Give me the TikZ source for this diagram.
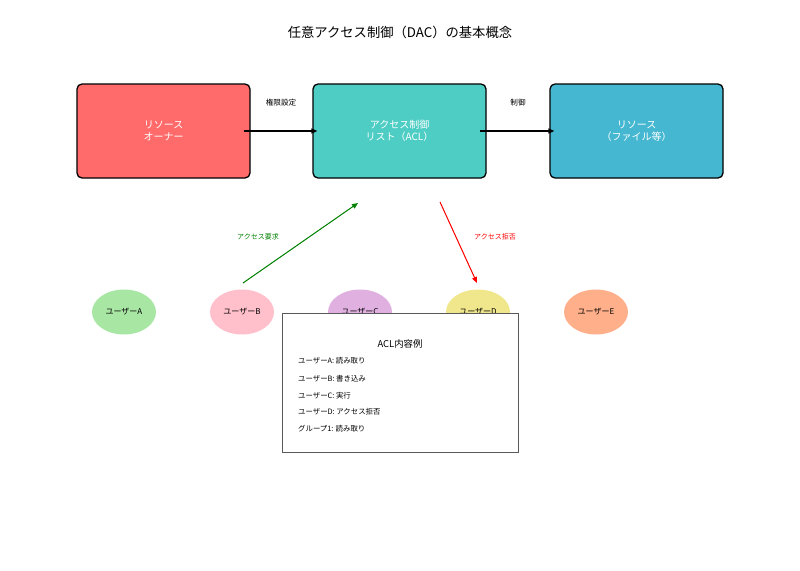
\documentclass[tikz,border=0pt]{standalone}
\usepackage{fontspec}
\setmainfont{Noto Sans CJK JP}
\usetikzlibrary{arrows.meta,shapes.geometric}

\definecolor{ownerred}{HTML}{FF6B6B}
\definecolor{aclteal}{HTML}{4ECDC4}
\definecolor{resblue}{HTML}{45B7D1}
\definecolor{usera}{HTML}{A8E6A3}
\definecolor{userb}{HTML}{FFC0CB}
\definecolor{userc}{HTML}{E0B0E0}
\definecolor{userd}{HTML}{F0E68C}
\definecolor{usere}{HTML}{FFAF8A}
\definecolor{okgreen}{HTML}{008000}
\definecolor{ngred}{HTML}{FF0000}

\begin{document}
\begin{tikzpicture}
  [x=1pt,y=-1pt,
   box/.style={draw=black,line width=1.3pt,rounded corners=5pt,minimum width=173pt,
     minimum height=94pt,inner sep=0pt,text=white,align=center,
     font=\fontsize{10}{12.5}\selectfont},
   user/.style={ellipse,minimum width=64pt,minimum height=45pt,inner sep=0pt,
     font=\fontsize{8}{9}\selectfont},
   flow/.style={line width=1.3pt,-{Triangle[length=6pt,width=5pt]}},
   lbl/.style={font=\fontsize{7.6}{9}\selectfont},
   item/.style={anchor=west,inner sep=0pt,font=\fontsize{7.4}{9}\selectfont}]
  \useasboundingbox (0,0) rectangle (800,570);

  \node (title) at (400,32) {\fontsize{13.3}{15}\selectfont 任意アクセス制御（DAC）の基本概念};

  \node[box,fill=ownerred] (owner) at (163.5,131) {リソース\\オーナー};
  \node[box,fill=aclteal] (acl) at (399.5,131) {アクセス制御\\リスト（ACL）};
  \node[box,fill=resblue] (res) at (636.5,131) {リソース\\（ファイル等）};

  \draw[flow,shorten <=-7pt,shorten >=-5pt] (owner.east) -- (acl.west);
  \draw[flow,shorten <=-7pt,shorten >=-5pt] (acl.east) -- (res.west);
  \node[lbl] (setlbl) at (281,103) {権限設定};
  \node[lbl] (ctllbl) at (518,103) {制御};

  \foreach \n/\x/\c in {A/124/usera,B/242/userb,C/360/userc,D/478/userd,E/596/usere}
    \node[user,fill=\c] (u\n) at (\x,312) {ユーザー\n};

  \coordinate (reqs) at (243,283);
  \coordinate (reqe) at (358,203);
  \coordinate (dens) at (440,202);
  \coordinate (dene) at (477,283);
  \draw[flow,draw=okgreen,fill=okgreen,line width=1pt] (reqs) -- (reqe);
  \draw[flow,draw=ngred,fill=ngred,line width=1pt] (dens) -- (dene);
  \node[lbl,text=okgreen,font=\fontsize{7}{8}\selectfont] (reqlbl) at (258,237) {アクセス要求};
  \node[lbl,text=ngred,font=\fontsize{7}{8}\selectfont] (denlbl) at (495,237) {アクセス拒否};

  \node[draw=black!65,fill=white,minimum width=236pt,minimum height=139pt,inner sep=0pt]
    (acltab) at (400,382.5) {};
  \node[font=\fontsize{9.4}{11}\selectfont] (acltitle) at (400,344) {ACL内容例};
  \node[item] (ia) at (298,361) {ユーザーA: 読み取り};
  \node[item] (ib) at (298,379) {ユーザーB: 書き込み};
  \node[item] (ic) at (298,396) {ユーザーC: 実行};
  \node[item] (id) at (298,412) {ユーザーD: アクセス拒否};
  \node[item] (ig) at (298,429) {グループ1: 読み取り};

\end{tikzpicture}
\end{document}
